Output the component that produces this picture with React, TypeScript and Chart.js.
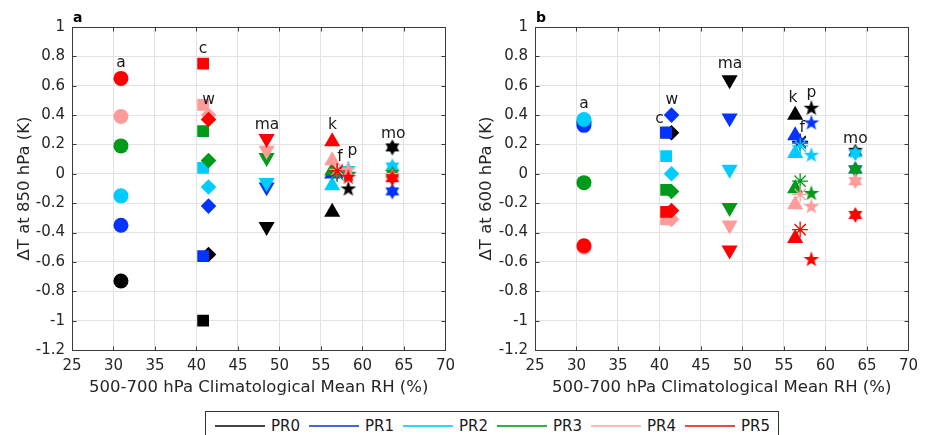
import React, { useEffect, useRef } from 'react';
import { Chart, registerables } from 'chart.js';

Chart.register(...registerables);

const FONT = "'DejaVu Sans', sans-serif";

const seriesNames = ['PR0', 'PR1', 'PR2', 'PR3', 'PR4', 'PR5'];
const seriesColors = ['#000000', '#0433ff', '#00ccff', '#009a1a', '#ff9b9b', '#ff0000'];
const legendColors = ['#444444', '#4a62e0', '#33d6f2', '#2eb34c', '#ffb8b8', '#ec4848'];

const sites = ['a', 'c', 'w', 'ma', 'k', 'f', 'p', 'mo'];
const siteRH = [30.9, 40.8, 41.45, 48.45, 56.35, 56.95, 58.3, 63.6];

const xTicks = [25, 30, 35, 40, 45, 50, 55, 60, 65, 70];
const yTicks = [1, 0.8, 0.6, 0.4, 0.2, 0, -0.2, -0.4, -0.6, -0.8, -1, -1.2];

// Panel a: ΔT at 850 hPa
const pr0_850 = [-0.73, -1.0, -0.55, -0.36, -0.26, 0.01, -0.1, 0.18];
const pr1_850 = [-0.35, -0.56, -0.22, -0.09, 0.0, 0.01, 0.0, -0.12];
const pr2_850 = [-0.15, 0.04, -0.09, -0.06, -0.08, 0.0, 0.04, 0.05];
const pr3_850 = [0.19, 0.29, 0.09, 0.11, 0.02, 0.0, 0.0, 0.0];
const pr4_850 = [0.39, 0.47, 0.4, 0.16, 0.09, 0.03, 0.03, -0.02];
const pr5_850 = [0.65, 0.75, 0.37, 0.24, 0.22, 0.02, -0.02, -0.03];

// Panel b: ΔT at 600 hPa
const pr0_600 = [0.35, 0.28, 0.28, 0.64, 0.4, 0.22, 0.45, 0.15];
const pr1_600 = [0.33, 0.28, 0.4, 0.38, 0.26, 0.21, 0.35, 0.03];
const pr2_600 = [0.37, 0.12, 0.0, 0.03, 0.14, 0.19, 0.13, 0.14];
const pr3_600 = [-0.06, -0.11, -0.12, -0.23, -0.1, -0.05, -0.13, 0.03];
const pr4_600 = [-0.5, -0.31, -0.31, -0.35, -0.21, -0.14, -0.22, -0.05];
const pr5_600 = [-0.49, -0.26, -0.25, -0.52, -0.44, -0.38, -0.58, -0.28];

// site label anchors (data units)
const labelX850 = [30.9, 40.8, 41.45, 48.5, 56.4, 57.3, 58.8, 63.7];
const labelY850 = [0.755, 0.85, 0.5, 0.33, 0.33, 0.115, 0.155, 0.27];
const labelX600 = [30.9, 40.0, 41.5, 48.5, 56.1, 57.2, 58.3, 63.6];
const labelY600 = [0.475, 0.375, 0.505, 0.75, 0.52, 0.31, 0.55, 0.24];

function makeStar5(color: string) {
  const c = document.createElement('canvas');
  c.width = 18; c.height = 18;
  const g = c.getContext('2d')!;
  const R = 8.3, r = 3.3;
  g.beginPath();
  for (let i = 0; i < 10; i++) {
    const rad = (i % 2 === 0 ? R : r);
    const a = -Math.PI / 2 + (i * Math.PI) / 5;
    const px = 9 + rad * Math.cos(a), py = 9.6 + rad * Math.sin(a);
    if (i === 0) g.moveTo(px, py); else g.lineTo(px, py);
  }
  g.closePath();
  g.fillStyle = color;
  g.fill();
  return c;
}

function makeHex(color: string) {
  const c = document.createElement('canvas');
  c.width = 18; c.height = 18;
  const g = c.getContext('2d')!;
  const R = 8;
  g.fillStyle = color;
  for (const off of [-Math.PI / 2, Math.PI / 2]) {
    g.beginPath();
    for (let i = 0; i < 3; i++) {
      const a = off + (i * 2 * Math.PI) / 3;
      const px = 9 + R * Math.cos(a), py = 9 + R * Math.sin(a);
      if (i === 0) g.moveTo(px, py); else g.lineTo(px, py);
    }
    g.closePath();
    g.fill();
  }
  return c;
}

function fmt(v: number) {
  const n = Math.round(v * 10) / 10;
  return n === 0 ? '0' : String(n);
}

function panelPlugin(letter: string, lx: number[], ly: number[]) {
  return {
    id: 'panel' + letter,
    beforeDatasetsDraw(chart: any) {
      const { ctx, chartArea } = chart;
      const { left, right, top, bottom } = chartArea;
      const xs = chart.scales.x, ys = chart.scales.y;
      ctx.save();
      ctx.strokeStyle = '#3a3a3a';
      ctx.lineWidth = 1;
      const L = Math.round(left) + 0.5, R = Math.round(right) + 0.5;
      const T = Math.round(top) + 0.5, B = Math.round(bottom) + 0.5;
      ctx.strokeRect(L, T, R - L, B - T);
      ctx.beginPath();
      xTicks.forEach((t) => {
        const px = Math.round(xs.getPixelForValue(t)) + 0.5;
        ctx.moveTo(px, B); ctx.lineTo(px, B - 4);
        ctx.moveTo(px, T); ctx.lineTo(px, T + 4);
      });
      yTicks.forEach((t) => {
        const py = Math.round(ys.getPixelForValue(t)) + 0.5;
        ctx.moveTo(L, py); ctx.lineTo(L + 4, py);
        ctx.moveTo(R, py); ctx.lineTo(R - 4, py);
      });
      ctx.stroke();
      ctx.restore();
    },
    afterDatasetsDraw(chart: any) {
      const { ctx, chartArea } = chart;
      const xs = chart.scales.x, ys = chart.scales.y;
      ctx.save();
      ctx.fillStyle = '#1a1a1a';
      ctx.font = `15.5px ${FONT}`;
      ctx.textAlign = 'center';
      ctx.textBaseline = 'middle';
      sites.forEach((s, i) => {
        ctx.fillText(s, xs.getPixelForValue(lx[i]), ys.getPixelForValue(ly[i]));
      });
      ctx.font = `bold 14px ${FONT}`;
      ctx.textAlign = 'left';
      ctx.textBaseline = 'middle';
      ctx.fillStyle = '#000';
      ctx.fillText(letter, chartArea.left + 1, 18);
      ctx.restore();
    },
  };
}

function buildConfig(letter: string, series: number[][], yTitle: string, lx: number[], ly: number[], yWidth: number, padRight: number) {
  const datasets = series.map((vals, si) => {
    const color = seriesColors[si];
    const star = makeStar5(color);
    const hex = makeHex(color);
    return {
      label: seriesNames[si],
      data: vals.map((v, i) => ({ x: siteRH[i], y: v })),
      order: 5 - si,
      pointStyle: ['circle', 'rect', 'rectRot', 'triangle', 'triangle', 'star', star, hex],
      pointRadius: [7.5, 8.3, 7.8, 9.3, 9.3, 8, 9, 9],
      pointRotation: [0, 0, 0, 180, 0, 0, 0, 0],
      pointBorderWidth: [0, 0, 0, 0, 0, 1.3, 0, 0],
      backgroundColor: color,
      borderColor: color,
      pointBackgroundColor: color,
      pointBorderColor: color,
      showLine: false,
    };
  });
  return {
    type: 'scatter',
    data: { datasets },
    options: {
      animation: false,
      responsive: false,
      devicePixelRatio: 1,
      layout: { padding: { top: 27, right: padRight, bottom: 0, left: 0 } },
      plugins: { legend: { display: false }, tooltip: { enabled: false } },
      scales: {
        x: {
          type: 'linear',
          min: 25,
          max: 70,
          afterBuildTicks: (s: any) => { s.ticks = xTicks.map((v) => ({ value: v })); },
          afterFit: (s: any) => { s.height = 50; },
          ticks: { font: { family: FONT, size: 15 }, color: '#262626', padding: 7, callback: (v: any) => String(v) },
          grid: { color: '#e2e2e2', drawTicks: false },
          border: { display: false },
          title: { display: true, text: '500-700 hPa Climatological Mean RH (%)', font: { family: FONT, size: 16.5 }, color: '#262626', padding: { top: 0, bottom: 2 } },
        },
        y: {
          type: 'linear',
          min: -1.2,
          max: 1,
          afterBuildTicks: (s: any) => { s.ticks = yTicks.slice().reverse().map((v) => ({ value: v })); },
          afterFit: (s: any) => { s.width = yWidth; },
          ticks: { font: { family: FONT, size: 15 }, color: '#262626', padding: 7, callback: (v: any) => fmt(v) },
          grid: { color: '#e2e2e2', drawTicks: false },
          border: { display: false },
          title: { display: true, text: yTitle, font: { family: FONT, size: 16.5 }, color: '#262626', padding: { top: 15, bottom: 0 } },
        },
      },
    },
    plugins: [panelPlugin(letter, lx, ly)],
  } as any;
}

export default function App() {
  const refA = useRef<HTMLCanvasElement>(null);
  const refB = useRef<HTMLCanvasElement>(null);

  useEffect(() => {
    document.body.style.margin = '0';
    const a = new Chart(refA.current!, buildConfig('a', [pr0_850, pr1_850, pr2_850, pr3_850, pr4_850, pr5_850], 'ΔT at 850 hPa (K)', labelX850, labelY850, 72, 11));
    const b = new Chart(refB.current!, buildConfig('b', [pr0_600, pr1_600, pr2_600, pr3_600, pr4_600, pr5_600], 'ΔT at 600 hPa (K)', labelX600, labelY600, 73, 13));
    return () => { a.destroy(); b.destroy(); };
  }, []);

  return (
    <div style={{ position: 'relative', width: 925, height: 435, overflow: 'hidden', background: '#fff' }}>
      <canvas ref={refA} width={462} height={400} style={{ position: 'absolute', left: 0, top: 0, width: 462, height: 400 }} />
      <canvas ref={refB} width={463} height={400} style={{ position: 'absolute', left: 462, top: 0, width: 463, height: 400 }} />
      <div
        style={{
          position: 'absolute', left: 205, top: 411, width: 574, height: 40, boxSizing: 'border-box',
          border: '1px solid #333', display: 'flex', alignItems: 'center', paddingLeft: 9, paddingBottom: 10,
          fontFamily: FONT, fontSize: 15, color: '#1a1a1a',
        }}
      >
        {seriesNames.map((n, i) => (
          <div key={n} style={{ display: 'flex', alignItems: 'center', width: 94, flex: '0 0 94px' }}>
            <span style={{ display: 'inline-block', width: 50, height: 2, background: legendColors[i], marginRight: 6 }} />
            <span>{n}</span>
          </div>
        ))}
      </div>
    </div>
  );
}
